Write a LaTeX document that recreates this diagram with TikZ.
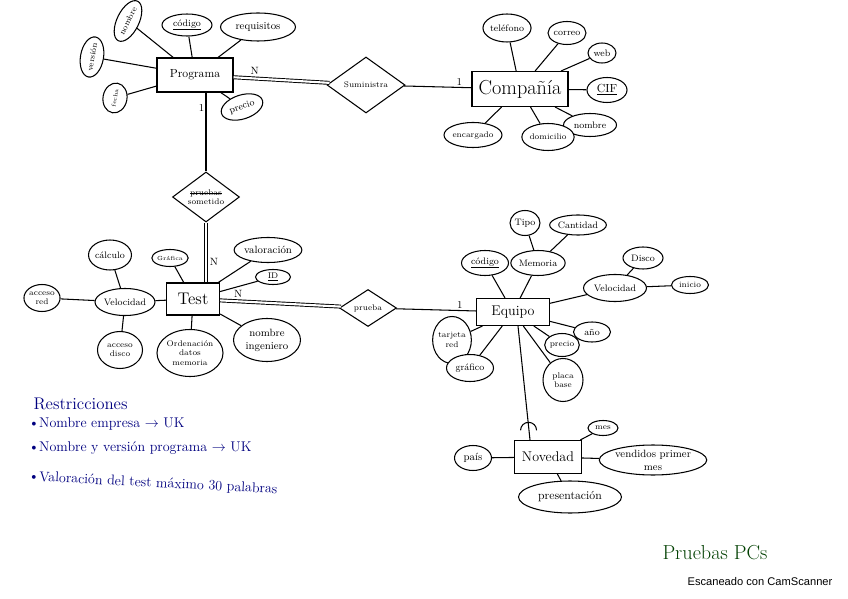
\documentclass[tikz,border=0pt]{standalone}
\usepackage{fontspec}
\newfontfamily\scanfont{Liberation Sans}
\usetikzlibrary{shapes.geometric, positioning, calc}
\newsavebox{\tachbox}
\newcommand{\tachado}[1]{\sbox{\tachbox}{#1}\rlap{\rule[0.55ex]{\wd\tachbox}{0.5pt}}\usebox{\tachbox}}

\begin{document}
\begin{tikzpicture}[
  x=0.03cm, y=-0.03cm, font=\footnotesize, line width=0.9pt,
  entity/.style={rectangle, draw=black, fill=white, inner sep=1pt, font=\normalsize},
  attr/.style={ellipse, draw=black, fill=white, inner sep=0pt, align=center},
  rel/.style={diamond, aspect=1.5, draw=black, fill=white, inner sep=0pt, align=center},
  sz/.style 2 args={minimum width=#1*0.03cm, minimum height=#2*0.03cm},
  link/.style={draw=black},
  dbl/.style={draw=black, double, double distance=1.8pt, line width=0.8pt},
  card/.style={font=\small, inner sep=1pt},
  rule/.style={text=blue!50!black, anchor=west, inner sep=0pt, font=\large}]
\useasboundingbox[fill=white] (0,0) rectangle (848,599);
% Programa
\node[entity, sz={76}{34}] (prog) at (195,75) {Programa};
\node[attr, sz={40}{23}, rotate=80, font=\scriptsize] (pversion) at (92,57) {versión};
\node[attr, sz={44}{22}, rotate=64, font=\scriptsize] (pnombre) at (128,21) {nombre};
\node[attr, sz={50}{22}] (pcodigo) at (187,25) {\underline{código}};
\node[attr, sz={75}{28}, font=\small] (preq) at (258,27) {requisitos};
\node[attr, sz={30}{24}, rotate=80, font=\tiny] (pfecha) at (115,98) {fecha};
\node[attr, sz={43}{24}, rotate=18] (pprecio) at (242,107) {precio};
% Compania
\node[rel, sz={78}{56}, font=\scriptsize] (sum) at (366,85) {Suministra};
\node[entity, sz={96}{35}, font=\LARGE] (comp) at (520,89) {Compañía};
\node[attr, sz={47}{28}] (ctel) at (507,28) {teléfono};
\node[attr, sz={38}{23}] (ccorreo) at (567,33) {correo};
\node[attr, sz={28}{20}] (cweb) at (602,53) {web};
\node[attr, sz={40}{25}, font=\normalsize] (ccif) at (607,90) {\underline{CIF}};
\node[attr, sz={53}{23}] (cnombre) at (590,125) {nombre};
\node[attr, sz={50}{27}, font=\scriptsize] (cdomic) at (548,137) {domicilio};
\node[attr, sz={47}{25}, font=\scriptsize] (cencarg) at (473,135) {encargado};
% Test
\node[rel, sz={67}{50}, font=\scriptsize] (somet) at (206,197) {\tachado{pruebas}\\sometido};
\node[entity, sz={53}{32}, font=\Large] (test) at (193,299) {Test};
\node[attr, sz={28}{17}, font=\tiny] (tgraf) at (170,258) {Gráfica};
\node[attr, sz={64}{25}, font=\small] (tvalor) at (268,250) {valoración};
\node[attr, sz={35}{15}, font=\scriptsize] (tid) at (273,277) {\underline{ID}};
\node[attr, sz={67}{43}, font=\small] (tingen) at (267,340) {nombre\\ingeniero};
\node[attr, sz={55}{47}, font=\scriptsize] (torden) at (190,353) {Ordenación\\datos\\memoria};
\node[attr, sz={60}{27}] (tveloc) at (125,302) {Velocidad};
\node[attr, sz={43}{30}] (tcalc) at (110,255) {cálculo};
\node[attr, sz={32}{27}, font=\scriptsize] (tred) at (42,298) {acceso\\red};
\node[attr, sz={45}{37}, font=\scriptsize] (tdisco) at (120,350) {acceso\\disco};
% Equipo
\node[rel, sz={57}{37}, font=\scriptsize] (prueba) at (368,308) {prueba};
\node[entity, sz={73}{27}, font=\large] (equipo) at (513,312) {Equipo};
\node[attr, sz={47}{25}] (ecodigo) at (485,263) {\underline{código}};
\node[attr, sz={53}{25}] (ememor) at (538,263) {Memoria};
\node[attr, sz={30}{25}] (etipo) at (525,223) {Tipo};
\node[attr, sz={50}{20}] (ecant) at (578,225) {Cantidad};
\node[attr, sz={63}{27}] (eveloc) at (615,288) {Velocidad};
\node[attr, sz={40}{22}] (edisco) at (643,258) {Disco};
\node[attr, sz={37}{17}, font=\scriptsize] (einicio) at (690,285) {inicio};
\node[attr, sz={37}{20}] (eanio) at (592,332) {año};
\node[attr, sz={32}{23}, font=\scriptsize] (eprecio) at (562,345) {precio};
\node[attr, sz={40}{43}, font=\scriptsize] (eplaca) at (563,380) {placa\\base};
\node[attr, sz={38}{47}, font=\scriptsize] (etarj) at (452,340) {tarjeta\\red};
\node[attr, sz={47}{27}] (egraf) at (470,368) {gráfico};
% Novedad
\node[entity, sz={67}{33}, font=\large] (noved) at (548,457) {Novedad};
\node[attr, sz={30}{15}, font=\scriptsize] (nmes) at (603,428) {mes};
\node[attr, sz={107}{30}, font=\small] (nvend) at (653,460) {vendidos primer\\mes};
\node[attr, sz={37}{25}, font=\small] (npais) at (473,458) {país};
\node[attr, sz={103}{32}, font=\normalsize] (npres) at (570,497) {presentación};
% conectores
\draw[link] (prog) -- (pversion); \draw[link] (prog) -- (pnombre);
\draw[link] (prog) -- (pcodigo); \draw[link] (prog) -- (preq);
\draw[link] (prog) -- (pfecha); \draw[link] (prog) -- (pprecio);
\draw[dbl] (prog) -- node[card, pos=0.22, above=2pt] {N} (sum);
\draw[link] (sum) -- node[card, pos=0.82, above] {1} (comp);
\draw[link] (comp) -- (ctel); \draw[link] (comp) -- (ccorreo);
\draw[link] (comp) -- (cweb); \draw[link] (comp) -- (ccif);
\draw[link] (comp) -- (cnombre); \draw[link] (comp) -- (cdomic);
\draw[link] (comp) -- (cencarg);
\draw[link] (prog.south -| somet.north) -- node[card, pos=0.2, left] {1} (somet.north);
\draw[dbl] (somet.south) -- node[card, pos=0.65, right=2pt] {N} (somet.south |- test.north);
\draw[link] (test) -- (tgraf); \draw[link] (test) -- (tvalor);
\draw[link] (test) -- (tid); \draw[link] (test) -- (tingen);
\draw[link] (test) -- (torden); \draw[link] (test) -- (tveloc);
\draw[link] (tveloc) -- (tcalc); \draw[link] (tveloc) -- (tred);
\draw[link] (tveloc) -- (tdisco);
\draw[dbl] (test) -- node[card, pos=0.15, above=2pt] {N} (prueba);
\draw[link] (prueba) -- node[card, pos=0.8, above] {1} (equipo);
\draw[link] (equipo) -- (ecodigo); \draw[link] (equipo) -- (ememor);
\draw[link] (ememor) -- (etipo); \draw[link] (ememor) -- (ecant);
\draw[link] (equipo) -- (eveloc); \draw[link] (eveloc) -- (edisco);
\draw[link] (eveloc) -- (einicio); \draw[link] (equipo) -- (eanio);
\draw[link] (equipo) -- (eprecio); \draw[link] (equipo) -- (eplaca);
\draw[link] (equipo) -- (etarj); \draw[link] (equipo) -- (egraf);
\coordinate (eqfoot) at ($(equipo.south)+(5,0)$);
\coordinate (novtop) at ($(noved.north)+(-18,0)$);
\draw[link] (eqfoot) -- (novtop);
\draw[link] ($(eqfoot)!0.88!(novtop)+(-8,4)$) arc[start angle=180, end angle=360, radius=8];
\draw[link] (noved) -- (nmes); \draw[link] (noved) -- (nvend);
\draw[link] (noved) -- (npais); \draw[link] (noved) -- (npres);
% restricciones
\node[rule, font=\Large] (restr) at (33,404) {Restricciones};
\node[rule] (r1) at (28,424) {\textbullet Nombre empresa $\to$ UK};
\node[rule] (r2) at (28,448) {\textbullet Nombre y versión programa $\to$ UK};
\node[rule, rotate=-3] (r3) at (28,477) {\textbullet Valoración del test máximo 30 palabras};
\node[text=green!25!black, font=\LARGE] (titulo) at (715,553) {Pruebas PCs};
\node[font=\scanfont\fontsize{9.5}{11}\selectfont] (scan) at (760,582) {Escaneado con CamScanner};
\end{tikzpicture}
\end{document}
